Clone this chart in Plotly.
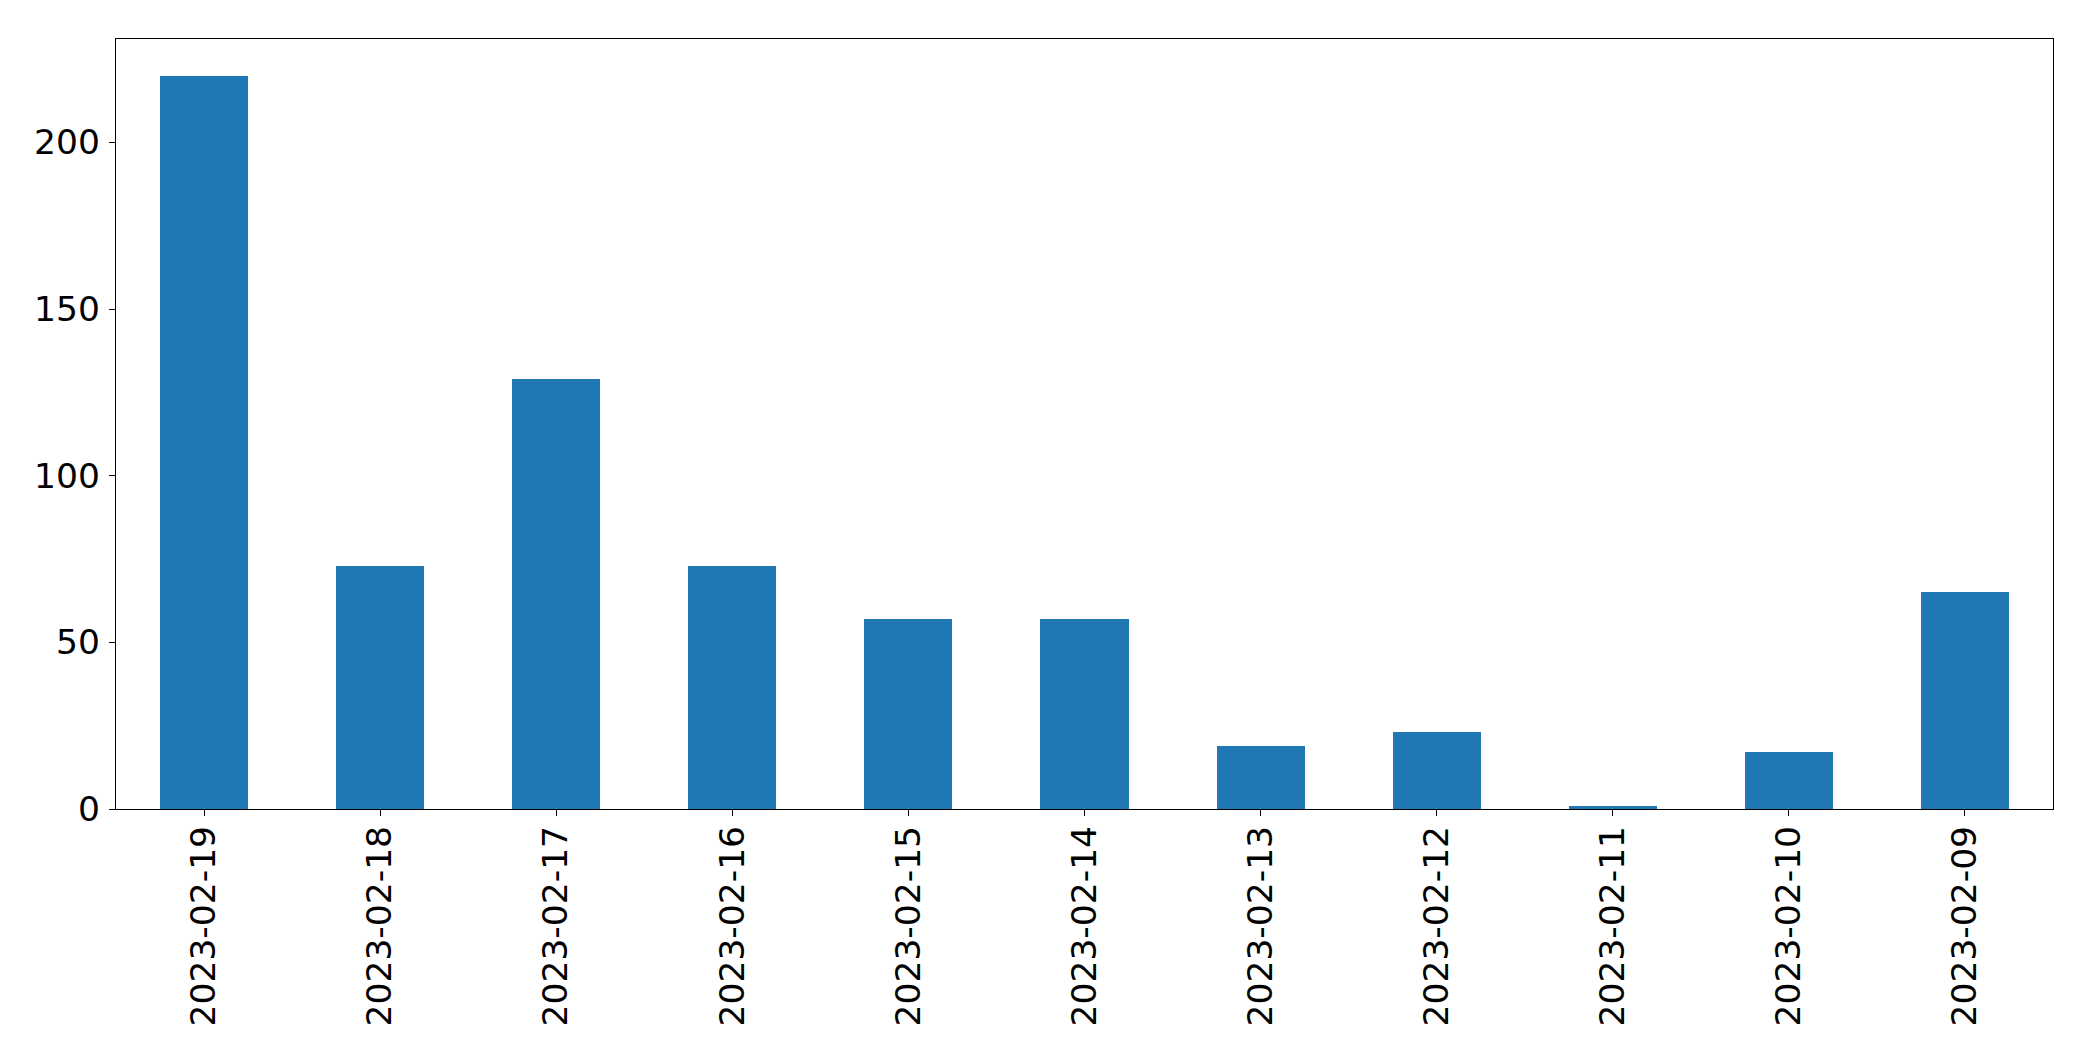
import plotly.graph_objects as go

dates = ["2023-02-19", "2023-02-18", "2023-02-17", "2023-02-16", "2023-02-15",
         "2023-02-14", "2023-02-13", "2023-02-12", "2023-02-11", "2023-02-10",
         "2023-02-09"]
counts = [220, 73, 129, 73, 57, 57, 19, 23, 1, 17, 65]

y_ticks = [0, 50, 100, 150, 200]

fig = go.Figure(go.Bar(x=dates, y=counts, width=0.5, marker_color="#1f77b4",
                       marker_line_width=0))

axis_common = dict(showline=True, linecolor="black", linewidth=1.3, mirror=True,
                   ticks="outside", ticklen=6, tickwidth=1.3, tickcolor="black",
                   showgrid=False, zeroline=False,
                   tickfont=dict(family="DejaVu Sans", size=34.5, color="black"))

fig.update_layout(
    width=2085, height=1053,
    margin=dict(l=108, r=40, t=31, b=252),
    paper_bgcolor="white", plot_bgcolor="white",
    showlegend=False,
    bargap=0,
    xaxis=dict(type="category", tickangle=-90, range=[-0.5, 10.5],
               ticklabelstandoff=-4, **axis_common),
    yaxis=dict(range=[0, 231], tickvals=y_ticks, ticktext=[str(v) for v in y_ticks],
               ticklabelstandoff=2, **axis_common),
)

fig.write_html("out.html")
